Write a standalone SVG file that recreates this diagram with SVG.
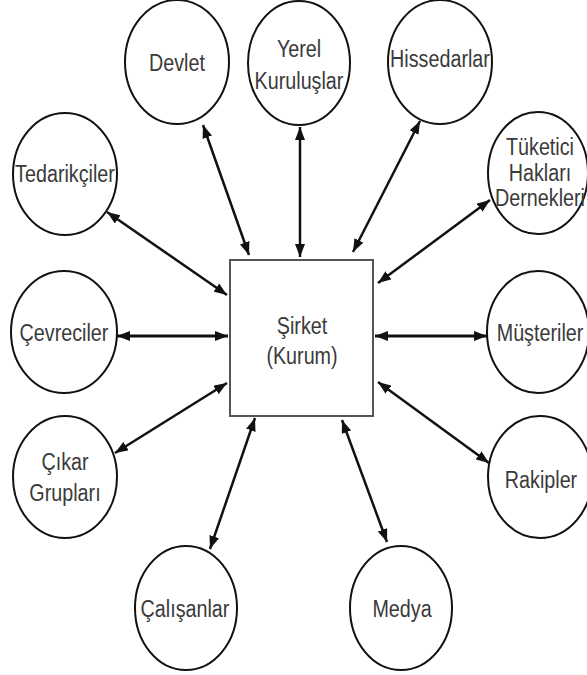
<svg xmlns="http://www.w3.org/2000/svg" width="587" height="675" viewBox="0 0 587 675">
  <style>
    .node ellipse { fill: #ffffff; stroke: #111111; stroke-width: 2; }
    .hub rect { fill: #ffffff; stroke: #555555; stroke-width: 2; }
    .lbl { font-family: "Liberation Sans", Arial, sans-serif; font-size: 23.5px; fill: #3a3a3a; text-anchor: middle; }
    .conn line { stroke: #111111; stroke-width: 2.5; marker-start: url(#head); marker-end: url(#head); }
    .conn line.h { stroke-width: 3.2; }
  </style>
  <defs>
    <marker id="head" viewBox="0 0 13 10" refX="13" refY="5" markerWidth="13" markerHeight="10" markerUnits="userSpaceOnUse" orient="auto-start-reverse">
      <path d="M0,0 L13,5 L0,10 z" fill="#111111"/>
    </marker>
  </defs>
  <rect width="587" height="675" fill="#ffffff"/>

  <!-- two-way links between the company and each stakeholder -->
  <g id="connectors" class="conn">
    <line x1="203" y1="125" x2="249" y2="255"/>
    <line x1="300" y1="127" x2="300" y2="257"/>
    <line x1="420" y1="121" x2="353" y2="252"/>
    <line x1="490" y1="200" x2="378" y2="283"/>
    <line x1="107" y1="212" x2="227" y2="295"/>
    <line class="h" x1="117" y1="336" x2="228" y2="336"/>
    <line class="h" x1="375" y1="336" x2="487" y2="336"/>
    <line x1="115" y1="453" x2="227" y2="383"/>
    <line x1="378" y1="382" x2="489" y2="463"/>
    <line x1="255" y1="418" x2="210" y2="549"/>
    <line x1="342" y1="420" x2="387" y2="542"/>
  </g>

  <g id="sirket" class="hub">
    <rect x="230" y="260" width="143" height="156"/>
    <text class="lbl" transform="translate(302 334) scale(0.84 1)"><tspan x="0">Şirket</tspan><tspan x="0" dy="30">(Kurum)</tspan></text>
  </g>

  <g id="devlet" class="node">
    <ellipse cx="177" cy="62" rx="52" ry="62"/>
    <text class="lbl" transform="translate(177 71) scale(0.84 1)">Devlet</text>
  </g>

  <g id="yerel-kuruluslar" class="node">
    <ellipse cx="299" cy="63" rx="51" ry="62"/>
    <text class="lbl" transform="translate(299 57) scale(0.84 1)"><tspan x="0">Yerel</tspan><tspan x="0" dy="32">Kuruluşlar</tspan></text>
  </g>

  <g id="hissedarlar" class="node">
    <ellipse cx="440" cy="62" rx="52" ry="62"/>
    <text class="lbl" transform="translate(440 67) scale(0.84 1)">Hissedarlar</text>
  </g>

  <g id="tedarikciler" class="node">
    <ellipse cx="65" cy="174" rx="52" ry="61"/>
    <text class="lbl" transform="translate(65 182) scale(0.84 1)">Tedarikçiler</text>
  </g>

  <g id="tuketici-haklari" class="node">
    <ellipse cx="538" cy="173" rx="50" ry="61"/>
    <text class="lbl" transform="translate(540 155) scale(0.84 1)"><tspan x="0">Tüketici</tspan><tspan x="0" dy="26">Hakları</tspan><tspan x="0" dy="25">Dernekleri</tspan></text>
  </g>

  <g id="cevreciler" class="node">
    <ellipse cx="64" cy="332" rx="53" ry="61"/>
    <text class="lbl" transform="translate(64 341) scale(0.84 1)">Çevreciler</text>
  </g>

  <g id="musteriler" class="node">
    <ellipse cx="538" cy="332" rx="51" ry="61"/>
    <text class="lbl" transform="translate(540 341) scale(0.84 1)">Müşteriler</text>
  </g>

  <g id="cikar-gruplari" class="node">
    <ellipse cx="65" cy="477" rx="52" ry="61"/>
    <text class="lbl" transform="translate(65 470) scale(0.84 1)"><tspan x="0">Çıkar</tspan><tspan x="0" dy="31">Grupları</tspan></text>
  </g>

  <g id="rakipler" class="node">
    <ellipse cx="540" cy="477" rx="52" ry="61"/>
    <text class="lbl" transform="translate(541 488) scale(0.84 1)">Rakipler</text>
  </g>

  <g id="calisanlar" class="node">
    <ellipse cx="186" cy="608" rx="51" ry="62"/>
    <text class="lbl" transform="translate(185 617) scale(0.84 1)">Çalışanlar</text>
  </g>

  <g id="medya" class="node">
    <ellipse cx="401" cy="608" rx="51" ry="62"/>
    <text class="lbl" transform="translate(402 617) scale(0.84 1)">Medya</text>
  </g>
</svg>
